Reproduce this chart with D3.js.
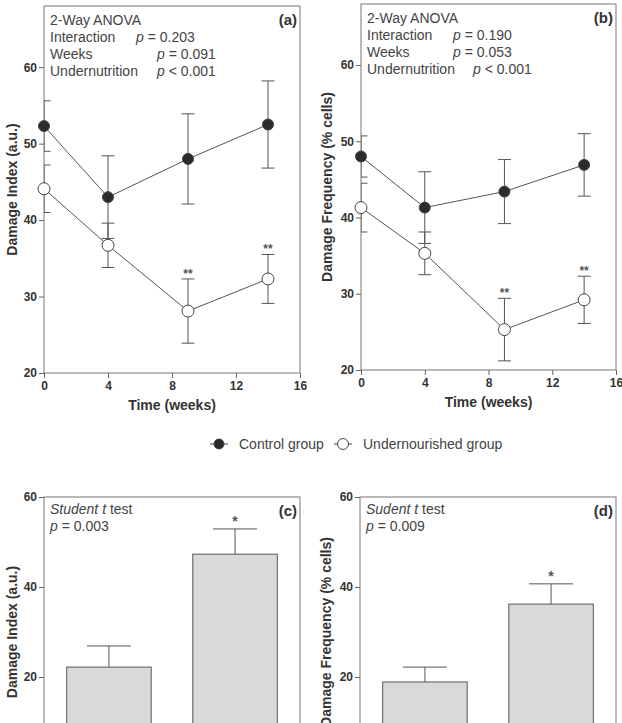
<!DOCTYPE html>
<html>
<head>
<meta charset="utf-8">
<script src="https://cdn.jsdelivr.net/npm/d3@7"></script>
<style>
  body { margin: 0; background: #fff; }
  svg { display: block; font-family: "Liberation Sans", Arial, sans-serif; }
  .axis path, .axis line { stroke: #666; }
  .axis text { font-weight: bold; font-size: 12px; fill: #333; }
</style>
</head>
<body>
<div id="chart"></div>
<script>
// time course data (weeks)
const weeks = [0, 4, 9, 14];
const controlDI = [52.3, 43.0, 48.0, 52.5];
const controlDIErr = [3.3, 5.4, 5.9, 5.7];
const underDI = [44.1, 36.7, 28.1, 32.3];
const underDIErr = [3.1, 2.9, 4.2, 3.2];
const controlDF = [48.0, 41.3, 43.4, 46.9];
const controlDFErr = [2.7, 4.7, 4.2, 4.1];
const underDF = [41.3, 35.3, 25.3, 29.2];
const underDFErr = [3.2, 2.8, 4.1, 3.1];
const underSig = ["", "", "**", "**"];

// overall comparison
const groups = ["Control", "Undernourished"];
const barDI = [22.2, 47.3];
const barDIErr = [4.7, 5.6];
const barDF = [18.9, 36.2];
const barDFErr = [3.3, 4.5];
const barSig = ["", "*"];

const xTicks = [0, 4, 8, 12, 16];
const yTicksLine = [20, 30, 40, 50, 60];
const yTicksBar = [20, 40, 60]; // 0 sits below the visible page

const W = 622, H = 723;
const svg = d3.select("#chart").append("svg").attr("width", W).attr("height", H);
const txt = "#444";

function frame(g, w, h){
  g.append("rect").attr("width", w).attr("height", h)
    .attr("fill", "none").attr("stroke", "#777").attr("stroke-width", 1);
}

function yTitle(g, x, cy, label){
  g.append("text").attr("transform", `translate(${x},${cy}) rotate(-90)`)
    .attr("text-anchor", "middle").attr("font-weight", "bold").attr("font-size", 14)
    .attr("fill", "#333").text(label);
}

function linePanel(opt){
  const g = svg.append("g").attr("transform", `translate(${opt.left},${opt.top})`);
  const w = opt.w, h = opt.h;
  const x = d3.scaleLinear().domain([0, 16]).range([0, w]);
  const y = d3.scaleLinear().domain([20, 68]).range([h, 0]);
  const clipId = "clip" + opt.tag;
  g.append("clipPath").attr("id", clipId).append("rect").attr("width", w).attr("height", h);

  frame(g, w, h);
  g.append("g").attr("class", "axis").attr("transform", `translate(0,${h})`)
    .call(d3.axisBottom(x).tickValues(xTicks).tickSize(5).tickPadding(3));
  g.append("g").attr("class", "axis")
    .call(d3.axisLeft(y).tickValues(yTicksLine).tickSize(5).tickPadding(2));
  g.selectAll(".axis .domain").remove();

  const line = d3.line().x(d => x(d.w)).y(d => y(d.v));
  const series = [
    {vals: opt.control, err: opt.controlErr, fill: "#2b2b2b", r: 5.5},
    {vals: opt.under, err: opt.underErr, fill: "#fff", r: 6}
  ];
  series.forEach(s => {
    const pts = weeks.map((wk, i) => ({w: wk, v: s.vals[i], e: s.err[i]}));
    const eb = g.append("g").attr("clip-path", `url(#${clipId})`).attr("stroke", "#555");
    pts.forEach(p => {
      eb.append("line").attr("x1", x(p.w)).attr("x2", x(p.w))
        .attr("y1", y(p.v - p.e)).attr("y2", y(p.v + p.e));
      [p.v - p.e, p.v + p.e].forEach(v => eb.append("line")
        .attr("x1", x(p.w) - 6.5).attr("x2", x(p.w) + 6.5)
        .attr("y1", y(v)).attr("y2", y(v)));
    });
    g.append("path").datum(pts).attr("d", line)
      .attr("fill", "none").attr("stroke", "#555").attr("stroke-width", 1);
    g.selectAll(null).data(pts).join("circle")
      .attr("cx", d => x(d.w)).attr("cy", d => y(d.v)).attr("r", s.r)
      .attr("fill", s.fill).attr("stroke", "#444").attr("stroke-width", 1);
  });
  // significance
  weeks.forEach((wk, i) => {
    if (!underSig[i]) return;
    g.append("text").attr("x", x(wk)).attr("y", y(opt.under[i] + opt.underErr[i]) - 1)
      .attr("text-anchor", "middle").attr("font-size", 12).attr("font-weight", "bold")
      .attr("fill", "#555").text(underSig[i]);
  });

  // stats text
  const st = g.append("g").attr("font-size", 14).attr("fill", txt);
  st.append("text").attr("x", 6).attr("y", 19).text("2-Way ANOVA");
  opt.stats.forEach((s, i) => {
    const yy = 36 + i * 17;
    st.append("text").attr("x", 6).attr("y", yy).text(s.name);
    st.append("text").attr("x", s.px).attr("y", yy)
      .html(`<tspan font-style="italic">p</tspan> ${s.val}`);
  });
  g.append("text").attr("x", w - 3).attr("y", 19).attr("text-anchor", "end")
    .attr("font-weight", "bold").attr("font-size", 15).attr("fill", "#333").text(opt.label);

  g.append("text").attr("x", x(8)).attr("y", h + 37).attr("text-anchor", "middle")
    .attr("font-weight", "bold").attr("font-size", 14).attr("fill", "#333").text("Time (weeks)");
  yTitle(g, opt.titleX - opt.left, h / 2, opt.ytitle);
}

function barPanel(opt){
  const g = svg.append("g").attr("transform", `translate(${opt.left},${opt.top})`);
  const w = opt.w, h = opt.h;
  const x = d3.scaleBand().domain(groups).range([0, w]).paddingInner(0.33).paddingOuter(0.18);
  const y = d3.scaleLinear().domain([0, 60]).range([h, 0]);
  frame(g, w, h);
  g.append("g").attr("class", "axis")
    .call(d3.axisLeft(y).tickValues(yTicksBar).tickSize(5).tickPadding(2));
  g.selectAll(".axis .domain").remove();

  groups.forEach((k, i) => {
    const cx = x(k) + x.bandwidth() / 2;
    const top = y(opt.vals[i] + opt.err[i]);
    g.append("line").attr("x1", cx).attr("x2", cx).attr("y1", y(opt.vals[i])).attr("y2", top)
      .attr("stroke", "#555");
    g.append("line").attr("x1", cx - 22).attr("x2", cx + 22).attr("y1", top).attr("y2", top)
      .attr("stroke", "#555");
    g.append("rect").attr("x", x(k)).attr("y", y(opt.vals[i]))
      .attr("width", x.bandwidth()).attr("height", h - y(opt.vals[i]))
      .attr("fill", "#d9d9d9").attr("stroke", "#555");
    if (barSig[i]) g.append("text").attr("x", cx).attr("y", top - 3)
      .attr("text-anchor", "middle").attr("font-size", 14).attr("font-weight", "bold")
      .attr("fill", "#555").text(barSig[i]);
  });

  const st = g.append("g").attr("font-size", 14).attr("fill", txt);
  st.append("text").attr("x", 6).attr("y", 17)
    .html(`<tspan font-style="italic">${opt.testName} t</tspan> test`);
  st.append("text").attr("x", 6).attr("y", 34)
    .html(`<tspan font-style="italic">p</tspan> = ${opt.p}`);
  g.append("text").attr("x", w - 3).attr("y", 19).attr("text-anchor", "end")
    .attr("font-weight", "bold").attr("font-size", 15).attr("fill", "#333").text(opt.label);
  yTitle(g, opt.titleX - opt.left, h / 2, opt.ytitle);
}

linePanel({
  tag: "a", left: 44, top: 6, w: 256, h: 367, label: "(a)",
  control: controlDI, controlErr: controlDIErr, under: underDI, underErr: underDIErr,
  ytitle: "Damage Index (a.u.)", titleX: 17,
  stats: [{name: "Interaction", val: "= 0.203", px: 92},
          {name: "Weeks", val: "= 0.091", px: 113},
          {name: "Undernutrition", val: "< 0.001", px: 113}]
});
linePanel({
  tag: "b", left: 361, top: 4, w: 255, h: 366, label: "(b)",
  control: controlDF, controlErr: controlDFErr, under: underDF, underErr: underDFErr,
  ytitle: "Damage Frequency (% cells)", titleX: 332,
  stats: [{name: "Interaction", val: "= 0.190", px: 92},
          {name: "Weeks", val: "= 0.053", px: 92},
          {name: "Undernutrition", val: "< 0.001", px: 112}]
});

// legend
const lg = svg.append("g").attr("font-size", 14).attr("fill", txt);
[{x: 219, fill: "#2b2b2b", r: 5, name: "Control group"},
 {x: 343, fill: "#fff", r: 5.5, name: "Undernourished group"}].forEach(d => {
  lg.append("line").attr("x1", d.x - 9).attr("x2", d.x + 9).attr("y1", 444).attr("y2", 444)
    .attr("stroke", "#444");
  lg.append("circle").attr("cx", d.x).attr("cy", 444).attr("r", d.r)
    .attr("fill", d.fill).attr("stroke", "#444");
  lg.append("text").attr("x", d.x + 20).attr("y", 449).text(d.name);
});

barPanel({
  left: 44, top: 497, w: 256, h: 270, label: "(c)",
  vals: barDI, err: barDIErr, testName: "Student", p: "0.003",
  ytitle: "Damage Index (a.u.)", titleX: 17
});
barPanel({
  left: 360, top: 497, w: 256, h: 270, label: "(d)",
  vals: barDF, err: barDFErr, testName: "Sudent", p: "0.009",
  ytitle: "Damage Frequency (% cells)", titleX: 331
});
</script>
</body>
</html>
